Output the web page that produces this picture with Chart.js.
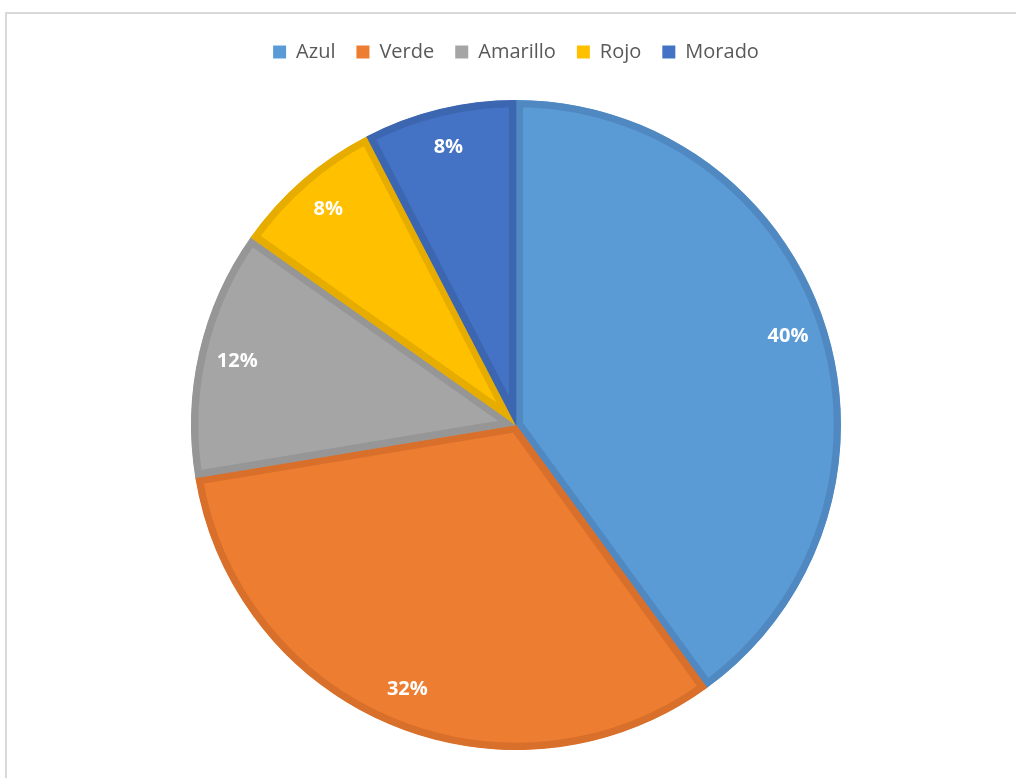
<!DOCTYPE html>
<html>
<head>
<meta charset="utf-8">
<script src="https://cdn.jsdelivr.net/npm/chart.js@4.4.0/dist/chart.umd.min.js"></script>
<style>
  html, body { margin: 0; padding: 0; background: #fff; }
  #frame {
    position: absolute; left: 5px; top: 12px; width: 1030px; height: 790px;
    border-left: 2px solid #d9d9d9; border-top: 2px solid #d9d9d9;
  }
  #wrap { position: absolute; left: 0; top: 0; width: 1016px; height: 778px; }
</style>
</head>
<body>
<div id="frame"></div>
<div id="wrap"><canvas id="pieChart" width="1016" height="778"></canvas></div>
<script>
// Chart data
const labels = ['Azul', 'Verde', 'Amarillo', 'Rojo', 'Morado'];
const values = [40, 32.4, 12.4, 7.6, 7.6];
const fillColors = ['#5b9bd5', '#ed7d31', '#a5a5a5', '#ffc000', '#4472c4'];
const edgeColors = ['#5089c2', '#d86f2b', '#969696', '#e6ad00', '#3d66b1'];

// Percent labels inside each slice
const sliceLabels = {
  id: 'sliceLabels',
  afterDatasetsDraw(chart) {
    const ctx = chart.ctx;
    const total = values.reduce((a, b) => a + b, 0);
    const meta = chart.getDatasetMeta(0);
    ctx.save();
    ctx.fillStyle = '#ffffff';
    ctx.font = 'bold 20px "Open Sans"';
    ctx.textAlign = 'center';
    ctx.textBaseline = 'middle';
    meta.data.forEach((arc, i) => {
      const mid = (arc.startAngle + arc.endAngle) / 2;
      const r = arc.outerRadius * 0.88;
      const x = arc.x + Math.cos(mid) * r;
      const y = arc.y + Math.sin(mid) * r;
      ctx.fillText(Math.round(values[i] / total * 100) + '%', x, y);
    });
    ctx.restore();
  }
};

const ctx = document.getElementById('pieChart').getContext('2d');
const pieChart = new Chart(ctx, {
  type: 'pie',
  data: {
    labels: labels,
    datasets: [{
      data: values,
      backgroundColor: fillColors,
      borderColor: edgeColors,
      borderWidth: 7,
      borderAlign: 'inner',
      radius: 325
    }]
  },
  options: {
    responsive: false,
    animation: false,
    layout: { padding: { left: 16, top: 21, right: 0, bottom: -5 } },
    plugins: {
      tooltip: { enabled: false },
      legend: {
        position: 'top',
        labels: {
          boxWidth: 13,
          boxHeight: 13,
          padding: 21,
          color: '#595959',
          font: { family: '"Open Sans"', size: 20 },
          generateLabels: (chart) => labels.map((name, i) => ({
            text: name,
            fillStyle: fillColors[i],
            strokeStyle: fillColors[i],
            lineWidth: 0,
            fontColor: '#595959',
            hidden: false,
            index: i
          }))
        }
      }
    }
  },
  plugins: [sliceLabels]
});
</script>
</body>
</html>
